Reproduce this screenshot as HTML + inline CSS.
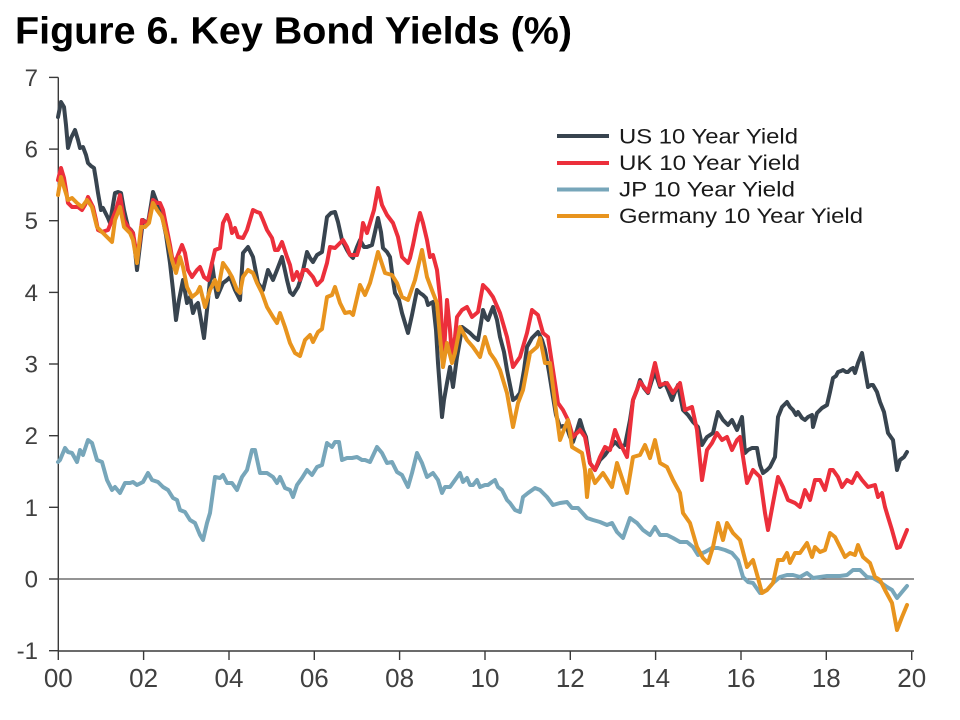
<!DOCTYPE html>
<html><head><meta charset="utf-8"><style>
html,body{margin:0;padding:0;background:#fff;}
svg{display:block;}
text{font-family:"Liberation Sans",Arial,sans-serif;}
</style></head><body>
<svg width="960" height="720" viewBox="0 0 960 720" xmlns="http://www.w3.org/2000/svg">
<rect width="960" height="720" fill="#fff"/>
<text x="15" y="43.5" font-size="38" font-weight="bold" fill="#000" textLength="557" lengthAdjust="spacingAndGlyphs">Figure 6. Key Bond Yields (%)</text>
<g stroke="#3a3a3a" stroke-width="1.4" fill="none">
<line x1="58.3" y1="77.4" x2="58.3" y2="651"/>
<line x1="58.3" y1="651" x2="914" y2="651"/>
<line x1="49" y1="77.4" x2="58.3" y2="77.4"/>
<line x1="49" y1="149.1" x2="58.3" y2="149.1"/>
<line x1="49" y1="220.7" x2="58.3" y2="220.7"/>
<line x1="49" y1="292.4" x2="58.3" y2="292.4"/>
<line x1="49" y1="364" x2="58.3" y2="364"/>
<line x1="49" y1="435.7" x2="58.3" y2="435.7"/>
<line x1="49" y1="507.3" x2="58.3" y2="507.3"/>
<line x1="49" y1="579" x2="58.3" y2="579"/>
<line x1="49" y1="650.7" x2="58.3" y2="650.7"/>
<line x1="58.3" y1="651" x2="58.3" y2="660"/>
<line x1="143.6" y1="651" x2="143.6" y2="660"/>
<line x1="229" y1="651" x2="229" y2="660"/>
<line x1="314.3" y1="651" x2="314.3" y2="660"/>
<line x1="399.6" y1="651" x2="399.6" y2="660"/>
<line x1="485" y1="651" x2="485" y2="660"/>
<line x1="570.3" y1="651" x2="570.3" y2="660"/>
<line x1="655.6" y1="651" x2="655.6" y2="660"/>
<line x1="741" y1="651" x2="741" y2="660"/>
<line x1="826.3" y1="651" x2="826.3" y2="660"/>
<line x1="911.7" y1="651" x2="911.7" y2="660"/>
</g>
<line x1="58.3" y1="579" x2="914" y2="579" stroke="#555" stroke-width="1.2"/>
<g font-size="24" fill="#404040" text-anchor="end">
<text x="38" y="86">7</text>
<text x="38" y="157.6">6</text>
<text x="38" y="229.2">5</text>
<text x="38" y="300.9">4</text>
<text x="38" y="372.5">3</text>
<text x="38" y="444.2">2</text>
<text x="38" y="515.8">1</text>
<text x="38" y="587.5">0</text>
<text x="38" y="659.2">-1</text>
</g>
<g font-size="26" fill="#404040" text-anchor="middle">
<text x="58.3" y="687">00</text>
<text x="143.6" y="687">02</text>
<text x="229" y="687">04</text>
<text x="314.3" y="687">06</text>
<text x="399.6" y="687">08</text>
<text x="485" y="687">10</text>
<text x="570.3" y="687">12</text>
<text x="655.6" y="687">14</text>
<text x="741" y="687">16</text>
<text x="826.3" y="687">18</text>
<text x="911.7" y="687">20</text>
</g>
<g fill="none" stroke-width="4" stroke-linejoin="round" stroke-linecap="round">
<polyline stroke="#38444f" points="58,117 61,102 64,107 66,125 68,148 71,138 75,130 78,140 80,148 83,147 86,155 88,163 91,166 94,168 96,180 98,193 101,210 103,208 105,212 108,218 110,223 113,205 115,193 118,192 121,193 124,210 128,227 131,230 133,233 135,250 137,270 140,245 143,220 146,222 148,223 151,205 153,192 156,200 160,210 163,220 166,235 170,263 173,290 176,320 179,300 183,280 187,303 190,297 193,313 196,305 198,303 201,320 204,338 207,310 210,280 212,263 215,285 217,297 220,290 223,283 227,280 230,277 235,290 240,300 243,253 248,247 253,257 258,283 263,290 268,270 273,280 277,270 282,257 287,280 290,292 293,295 298,287 302,275 307,252 310,258 313,262 317,255 322,252 327,217 331,213 335,212 338,222 342,240 347,250 350,255 353,258 357,247 360,240 364,247 367,247 372,245 375,232 378,218 381,232 383,248 387,252 390,257 393,280 395,293 399,300 402,313 405,323 408,333 412,315 417,290 420,293 423,295 426,298 428,305 431,303 433,302 436,330 438,363 440,390 442,417 444,400 447,383 450,367 453,387 455,372 457,357 460,340 462,327 466,330 470,333 474,337 478,340 481,323 483,310 486,318 488,320 491,312 493,307 497,320 500,337 504,352 507,370 510,385 513,400 517,397 520,393 524,370 527,347 532,338 538,332 542,340 545,350 549,372 553,397 556,415 560,427 563,426 567,428 570,437 573,442 577,430 580,420 583,430 586,437 590,463 595,470 600,460 605,455 610,448 615,442 620,447 625,445 630,420 633,400 637,390 640,380 644,388 648,393 652,380 655,372 660,387 665,383 668,390 672,400 675,392 678,385 683,410 688,415 693,422 698,427 702,445 705,440 707,437 710,435 713,433 716,420 718,412 723,420 728,425 732,420 737,430 742,417 745,453 748,450 752,448 757,448 760,465 763,473 767,470 770,467 775,457 778,417 782,407 787,402 790,407 793,410 796,415 798,412 802,418 805,420 808,417 812,415 813,427 817,413 822,408 827,405 830,392 833,378 836,376 838,372 841,371 843,370 846,372 848,372 851,369 853,368 855,373 858,363 862,353 865,370 868,387 871,385 873,385 877,392 880,402 884,412 888,433 893,440 895,455 897,470 900,460 904,457 907,452"/>
<polyline stroke="#ec2f3b" points="58,180 61,168 64,178 66,190 68,203 72,207 78,207 82,210 85,205 88,197 91,203 93,207 96,220 98,230 102,232 105,231 108,230 110,225 112,220 116,210 120,195 122,208 124,220 128,227 133,233 135,245 137,260 140,240 142,220 145,222 148,223 151,210 153,200 157,203 160,203 163,210 167,230 170,245 172,257 175,263 178,255 182,245 185,253 188,270 192,277 197,270 200,267 204,277 208,280 212,263 215,250 220,248 223,223 227,215 230,223 232,233 235,228 238,237 243,238 247,230 250,220 253,210 257,212 260,213 263,220 267,230 272,238 275,250 278,250 282,242 287,257 290,265 293,280 297,272 300,280 303,270 307,270 313,277 317,285 322,280 327,263 330,247 335,248 340,243 343,240 347,247 350,255 357,255 360,245 363,223 367,233 370,223 374,210 378,188 382,205 387,215 393,223 398,237 402,257 408,263 410,258 413,245 417,225 420,213 423,223 427,240 430,257 433,255 437,270 440,297 442,330 444,353 447,300 450,330 452,357 455,337 457,317 462,310 467,307 472,317 478,312 483,285 488,290 493,297 500,313 507,337 513,367 520,357 527,333 532,310 538,315 543,333 548,337 553,370 558,403 563,410 568,420 573,437 580,430 585,437 590,463 595,470 600,457 605,447 610,450 615,430 620,443 627,457 633,400 640,382 648,392 655,363 660,385 667,383 673,393 680,383 685,410 692,407 697,430 702,480 707,450 712,443 717,433 722,440 727,437 732,450 737,440 740,437 747,483 753,470 760,477 765,513 768,530 773,503 778,477 783,487 788,500 795,503 800,507 805,490 810,500 815,480 820,480 825,490 830,470 833,470 838,477 842,487 847,480 852,483 857,473 862,480 868,487 875,485 878,497 882,493 885,507 888,517 892,530 897,548 900,547 907,530"/>
<polyline stroke="#77a6ba" points="58,462 60,460 65,448 68,452 72,453 77,462 80,450 83,455 88,440 92,443 97,460 102,462 107,480 112,490 115,487 120,493 125,483 130,483 133,482 137,485 143,482 148,473 152,480 158,482 163,487 168,490 173,498 177,500 180,510 185,512 190,520 195,523 200,535 203,540 207,523 210,513 215,477 220,478 223,475 227,483 232,483 237,490 242,477 247,470 252,450 255,450 260,473 267,473 273,477 277,483 280,477 285,488 290,490 293,497 297,485 302,478 307,470 312,475 317,467 322,465 327,443 332,447 335,442 339,442 342,460 347,458 352,458 357,457 362,460 365,460 370,462 377,447 382,453 387,463 392,462 397,472 402,475 408,487 412,473 417,453 422,463 427,477 433,473 438,480 442,493 445,487 450,487 455,480 460,473 463,482 467,478 470,485 473,485 477,480 480,487 485,485 488,485 492,482 495,480 498,487 502,490 507,500 510,503 515,510 520,512 523,497 528,493 535,488 540,490 547,497 553,505 560,503 567,502 572,508 578,508 587,518 593,520 600,522 607,525 612,523 617,532 623,538 630,518 637,523 643,530 650,535 655,527 660,535 667,535 673,538 680,542 687,542 693,547 698,555 705,552 712,548 718,548 725,550 732,553 738,560 743,577 748,582 753,583 760,593 767,590 773,583 780,577 787,575 793,575 800,577 807,573 813,578 820,577 827,576 833,576 840,576 847,575 853,570 860,570 867,577 873,578 880,582 887,587 892,590 897,598 902,592 907,586"/>
<polyline stroke="#e8941e" points="58,195 61,177 64,187 68,200 72,198 77,203 82,207 87,200 92,207 97,227 103,233 108,238 112,242 115,220 120,207 124,227 130,233 133,240 137,263 141,227 145,227 149,223 153,203 157,210 162,217 167,237 172,260 176,273 180,257 183,267 187,287 192,297 197,293 200,287 205,307 210,290 215,280 218,290 223,263 228,270 232,277 237,290 240,293 243,277 248,270 253,273 257,283 262,293 267,307 273,317 277,323 280,313 285,327 290,343 295,353 300,356 305,340 310,335 313,342 318,332 322,329 327,297 332,295 335,287 340,303 345,313 350,312 353,315 360,285 365,295 370,283 374,268 378,252 385,273 392,275 397,283 402,297 408,300 415,280 422,250 427,277 433,293 437,303 440,337 443,367 447,343 452,363 455,353 460,327 467,340 473,347 480,357 485,337 490,353 495,360 500,370 507,393 513,427 518,403 523,390 530,353 537,347 540,338 545,363 550,363 555,403 560,440 565,427 568,420 572,447 577,450 582,453 585,470 587,497 590,470 595,483 603,473 612,487 617,463 622,478 627,493 633,457 640,455 645,445 650,458 655,440 660,463 667,467 673,480 680,493 683,513 690,523 697,547 703,558 708,563 713,547 718,523 723,540 727,523 733,533 740,540 747,567 753,560 758,578 762,593 767,590 773,583 778,560 783,560 787,553 790,563 795,553 800,553 807,543 812,557 815,547 820,552 825,550 830,533 835,537 840,547 845,557 850,553 855,555 858,545 863,557 870,563 875,577 880,580 885,590 892,603 897,630 902,617 907,605"/>
</g>
<g stroke-width="4">
<line x1="557" y1="136" x2="609" y2="136" stroke="#38444f"/>
<line x1="557" y1="163" x2="609" y2="163" stroke="#ec2f3b"/>
<line x1="557" y1="189.5" x2="609" y2="189.5" stroke="#77a6ba"/>
<line x1="557" y1="216" x2="609" y2="216" stroke="#e8941e"/>
</g>
<g font-size="21" fill="#1a1a1a">
<text x="619" y="143.3" textLength="179" lengthAdjust="spacingAndGlyphs">US 10 Year Yield</text>
<text x="619" y="170" textLength="181" lengthAdjust="spacingAndGlyphs">UK 10 Year Yield</text>
<text x="619" y="196.5" textLength="176" lengthAdjust="spacingAndGlyphs">JP 10 Year Yield</text>
<text x="619" y="223" textLength="244" lengthAdjust="spacingAndGlyphs">Germany 10 Year Yield</text>
</g>
</svg>
</body></html>
